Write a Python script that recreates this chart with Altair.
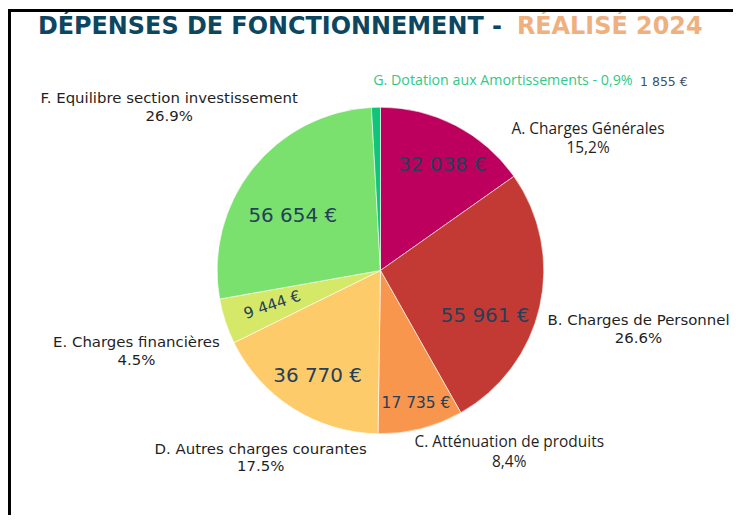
import math
import altair as alt
import pandas as pd

# ---- data ----
categories = [
    "A. Charges Générales",
    "B. Charges de Personnel",
    "C. Atténuation de produits",
    "D. Autres charges courantes",
    "E. Charges financières",
    "F. Equilibre section investissement",
    "G. Dotation aux Amortissements",
]
values = [32038, 55961, 17735, 36770, 9444, 56654, 1855]
percent_labels = ["15,2%", "26.6%", "8,4%", "17.5%", "4.5%", "26.9%", "0,9%"]
colors = ["#BD005D", "#C33A34", "#F8964E", "#FECB6B", "#D6E868", "#7AE06E", "#10C47C"]

title_main = "DÉPENSES DE FONCTIONNEMENT -"
title_accent = "RÉALISÉ 2024"


def euro(v):
    return f"{v:,}".replace(",", " ") + " €"


total = sum(values)
rows = []
cum = 0
for i, (c, v, p) in enumerate(zip(categories, values, percent_labels)):
    start = cum / total * 2 * math.pi
    cum += v
    end = cum / total * 2 * math.pi
    label = f"{c} - {p}" if i == 6 else f"{c}\n{p}"
    rows.append(dict(idx=i, cat=c, value=v, start=start, end=end,
                     mid=(start + end) / 2, amount=euro(v), label=label))
df = pd.DataFrame(rows)

# ---- layout / style ----
W, H = 728, 508
CX, CY = 374, 262.5
R = 164
DARK = "#1f1f1f"
VALUE_COLOR = "#24405A"

base = alt.Chart(df)

pie = base.mark_arc(outerRadius=R, stroke="white", strokeWidth=0.6).encode(
    theta=alt.Theta("start:Q", scale=None, stack=None),
    theta2="end",
    color=alt.Color("cat:N", scale=alt.Scale(domain=categories, range=colors), legend=None),
    x=alt.value(CX),
    y=alt.value(CY),
)

# outer labels: (radius, dx, dy, font, size, align, color, lineHeight, lines)
outer_style = {
    0: (240, 98, 81, "Open Sans", 15.5, "center", DARK, 19, 2),
    1: (240, 25, 6, "DejaVu Sans", 15, "center", DARK, 17.5, 2),
    2: (240, 70, -50, "Open Sans", 15.5, "center", DARK, 20, 2),
    3: (240, 8, -15, "DejaVu Sans", 15, "center", DARK, 18, 2),
    4: (240, -17, 6, "DejaVu Sans", 15, "center", DARK, 18.5, 2),
    5: (240, -24, -15, "DejaVu Sans", 15, "center", DARK, 17.5, 2),
    6: (190, -2, 0, "Open Sans", 14.3, "left", "#2FC98A", 18, 1),
}
# value labels inside slices: (radius, dx, dy, size, angle)
value_style = {
    0: (120, 7, 1, 20, 0),
    1: (120, -12, 19, 20, 0),
    2: (120, 6, 17, 15.5, 0),
    3: (120, 1, 5, 20, 0),
    4: (120, 6, -1, 15.5, -19),
    5: (120, 6, 20, 20, 0),
}

layers = [pie]
for i, (r, dx, dy, font, size, align, col, lh, n) in outer_style.items():
    layers.append(
        base.transform_filter(alt.datum.idx == i)
        .mark_text(radius=r, dx=dx, dy=dy - (n - 1) * lh / 2, font=font, fontSize=size,
                   align=align, baseline="middle", color=col, lineBreak="\n", lineHeight=lh)
        .encode(theta=alt.Theta("mid:Q", scale=None, stack=None),
                text="label:N", x=alt.value(CX), y=alt.value(CY))
    )
for i, (r, dx, dy, size, ang) in value_style.items():
    layers.append(
        base.transform_filter(alt.datum.idx == i)
        .mark_text(radius=r, dx=dx, dy=dy, font="DejaVu Sans", fontSize=size,
                   align="center", baseline="middle", color=VALUE_COLOR, angle=ang % 360)
        .encode(theta=alt.Theta("mid:Q", scale=None, stack=None),
                text="amount:N", x=alt.value(CX), y=alt.value(CY))
    )
# small amount next to the G label
layers.append(
    base.transform_filter(alt.datum.idx == 6)
    .mark_text(radius=190, dx=266, dy=1, font="DejaVu Sans", fontSize=12.5,
               align="left", baseline="middle", color="#3A5064")
    .encode(theta=alt.Theta("mid:Q", scale=None, stack=None),
            text="amount:N", x=alt.value(CX), y=alt.value(CY))
)

one = alt.Chart(pd.DataFrame({"k": [0]}))
title1 = one.mark_text(text=title_main, font="DejaVu Sans", fontWeight="bold", fontSize=24,
                       align="left", baseline="alphabetic", color="#0D4660").encode(
    x=alt.value(30), y=alt.value(25))
title2 = one.mark_text(text=title_accent, font="DejaVu Sans", fontWeight="bold", fontSize=24,
                       align="left", baseline="alphabetic", color="#EFB080").encode(
    x=alt.value(511), y=alt.value(25))
top_bar = one.mark_rule(color="black", strokeWidth=3).encode(
    x=alt.value(0), x2=alt.value(W), y=alt.value(1.5))
left_bar = one.mark_rule(color="black", strokeWidth=3).encode(
    x=alt.value(1.5), y=alt.value(0), y2=alt.value(H))

chart = alt.layer(*layers, title1, title2, top_bar, left_bar).properties(
    width=W, height=H,
    autosize=alt.AutoSizeParams(type="none"),
    padding=0,
    background="white",
).configure_view(stroke=None)

chart.save("out.html", embed_options={"renderer": "svg", "actions": False})
